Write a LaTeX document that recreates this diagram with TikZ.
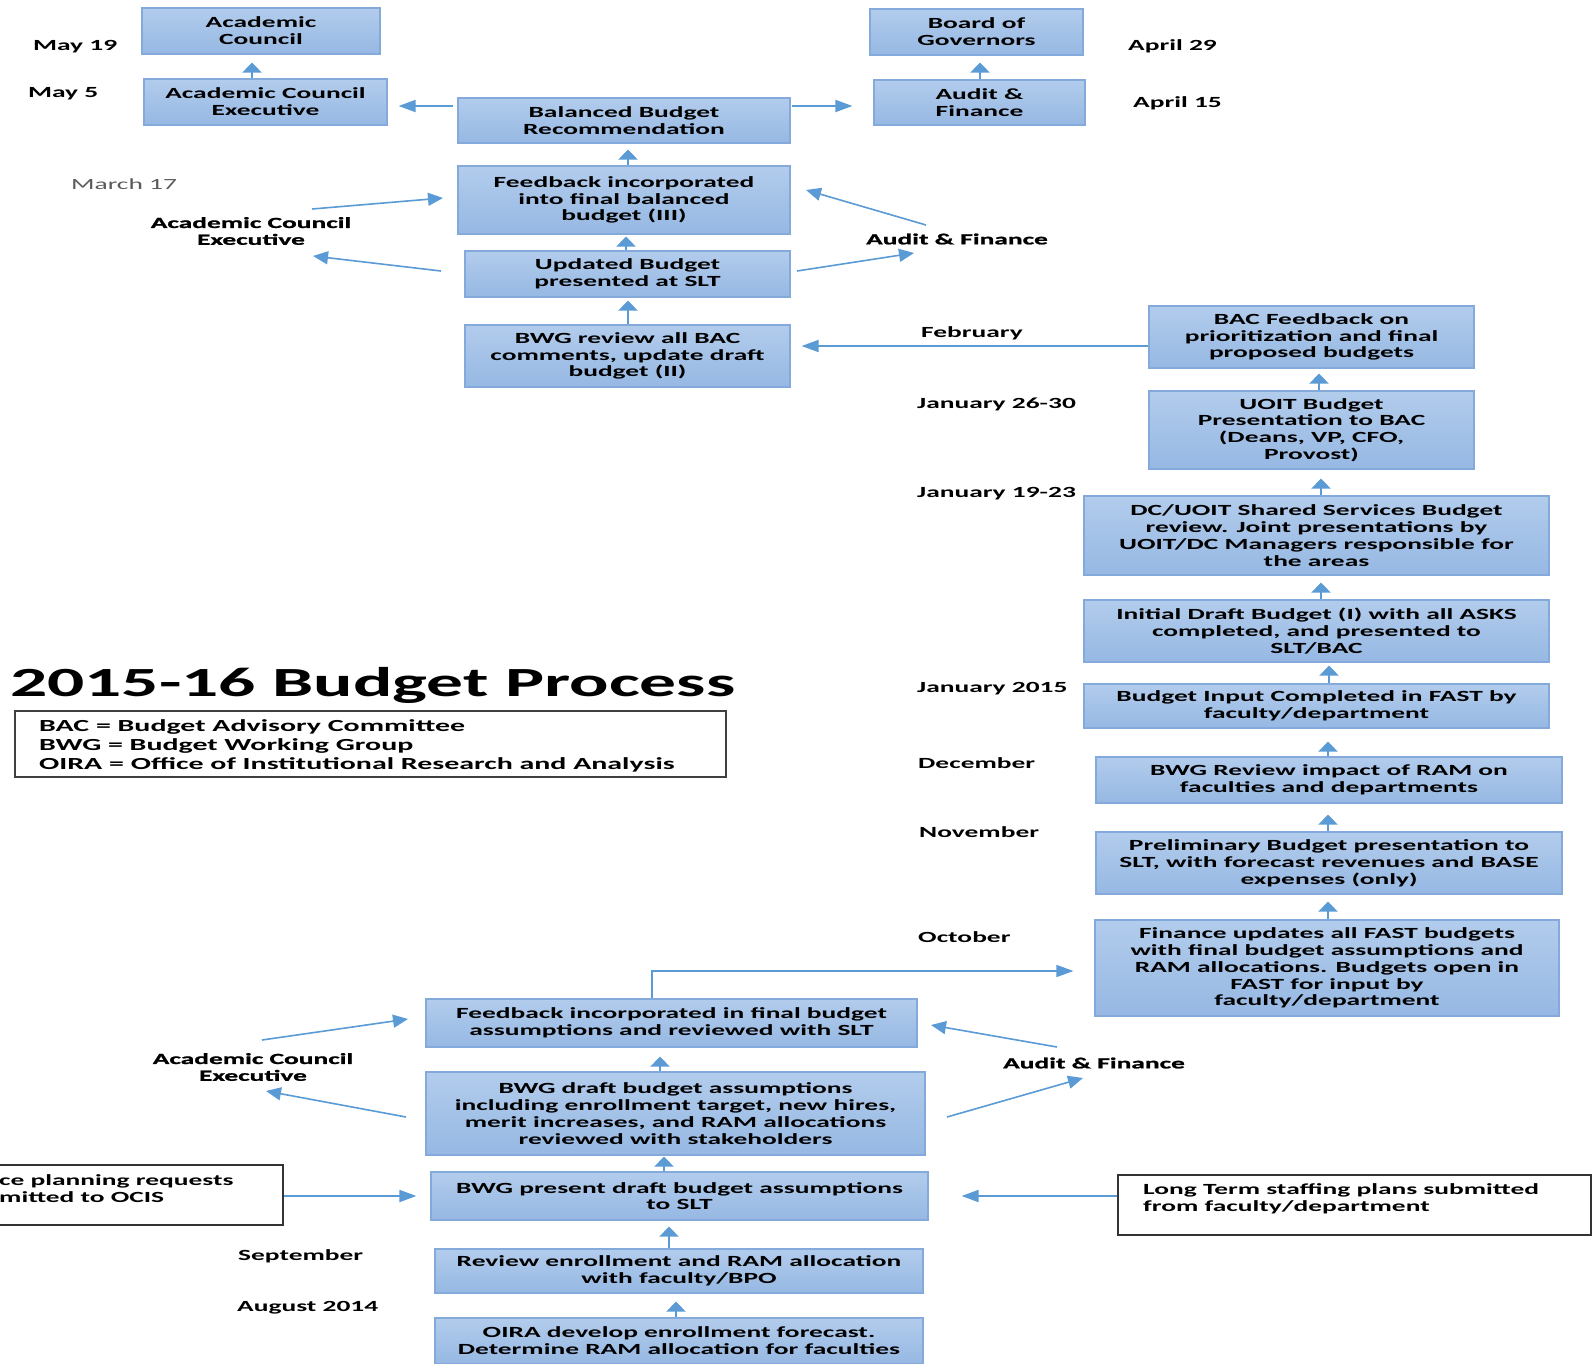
\documentclass[tikz,border=0pt]{standalone}
\usepackage{fontspec}
\setmainfont[FakeStretch=1.77]{Carlito}
\newfontfamily\heavyfont[FakeStretch=1.77,FakeBold=1.2]{Carlito}
\usetikzlibrary{arrows.meta}
\definecolor{boxtop}{HTML}{B2CCEC}
\definecolor{boxbot}{HTML}{96B8E3}
\definecolor{boxline}{HTML}{84AADB}
\definecolor{arrowblue}{HTML}{5B9BD5}
\definecolor{greytext}{HTML}{5A5A5A}
\tikzset{
  bx/.style={draw=boxline, line width=1.2pt, top color=boxtop, bottom color=boxbot,
    align=center, inner sep=2pt, font=\fontsize{15.5}{16.8}\selectfont\bfseries},
  arrv/.style={draw=arrowblue, line width=2.4pt, -{Triangle[width=19pt,length=10pt]}},
  arrh/.style={draw=arrowblue, line width=1.9pt, -{Triangle[width=12pt,length=17pt]}},
  sarr/.style={draw=arrowblue, line width=1.6pt, -{Triangle[width=13pt,length=15pt]}},
  datelbl/.style={anchor=base west, inner sep=0pt, font=\fontsize{15.5}{16.8}\selectfont\bfseries},
  sidelbl/.style={align=center, inner sep=0pt, font=\fontsize{15.5}{16.8}\heavyfont\bfseries},
  plainbox/.style={draw=black!80, line width=1.3pt, fill=white}
}
\begin{document}
\begin{tikzpicture}[x=1pt,y=-1pt]
\clip (0,0) rectangle (1593,1363);
\fill[white] (0,0) rectangle (1593,1363);

% ---------- top area ----------
\node[bx, minimum width=238pt, minimum height=46pt] (ac) at (261,31) {Academic\\Council};
\node[bx, minimum width=243pt, minimum height=46pt] (ace) at (265.5,102) {Academic Council\\Executive};
\node[bx, minimum width=332pt, minimum height=45pt] (bbr) at (624,120.5) {Balanced Budget\\Recommendation};
\node[bx, minimum width=213pt, minimum height=46pt] (bog) at (976.5,32) {Board of\\Governors};
\node[bx, minimum width=211pt, minimum height=45pt] (af) at (979.5,102.5) {Audit \&\\Finance};
\node[bx, minimum width=332pt, minimum height=68pt] (fb3) at (624,200) {Feedback incorporated\\into final balanced\\budget (III)};
\node[bx, minimum width=325pt, minimum height=46pt] (ub) at (627.5,274) {Updated Budget\\presented at SLT};
\node[bx, minimum width=325pt, minimum height=62pt] (bwg2) at (627.5,356) {BWG review all BAC\\comments, update draft\\budget (II)};

\node[datelbl] (may19) at (33,50) {May 19};
\node[datelbl] (may5) at (28,97) {May 5};
\node[datelbl, font=\fontsize{15.5}{16.8}\selectfont, text=greytext] (mar17) at (71,189) {March 17};
\node[datelbl] (apr29) at (1128,50) {April 29};
\node[datelbl] (apr15) at (1133,107) {April 15};

\node[sidelbl] (lace1) at (251,231) {Academic Council\\Executive};
\node[sidelbl] (laf1) at (957,239) {Audit \& Finance};

% ---------- right column ----------
\node[bx, minimum width=325pt, minimum height=62pt] (bacf) at (1311.5,337) {BAC Feedback on\\prioritization and final\\proposed budgets};
\node[bx, minimum width=325pt, minimum height=78pt] (uoit) at (1311.5,430) {UOIT Budget\\Presentation to BAC\\(Deans, VP, CFO,\\Provost)};
\node[bx, minimum width=465pt, minimum height=79pt] (dc) at (1316.5,535.5) {DC/UOIT Shared Services Budget\\review. Joint presentations by\\UOIT/DC Managers responsible for\\the areas};
\node[bx, minimum width=465pt, minimum height=62pt] (idb) at (1316.5,631) {Initial Draft Budget (I) with all ASKS\\completed, and presented to\\SLT/BAC};
\node[bx, minimum width=465pt, minimum height=44pt] (bic) at (1316.5,706) {Budget Input Completed in FAST by\\faculty/department};
\node[bx, minimum width=466pt, minimum height=46pt] (bri) at (1329,780) {BWG Review impact of RAM on\\faculties and departments};
\node[bx, minimum width=466pt, minimum height=62pt] (pbp) at (1329,863) {Preliminary Budget presentation to\\SLT, with forecast revenues and BASE\\expenses (only)};
\node[bx, minimum width=464pt, minimum height=96pt] (fu) at (1327,968) {Finance updates all FAST budgets\\with final budget assumptions and\\RAM allocations. Budgets open in\\FAST for input by\\faculty/department};

\node[datelbl, anchor=base] (feb) at (972,337) {February};
\node[datelbl] (jan2630) at (917,408) {January 26-30};
\node[datelbl] (jan1923) at (917,497) {January 19-23};
\node[datelbl] (jan2015) at (917,692) {January 2015};
\node[datelbl] (dec) at (918,768) {December};
\node[datelbl] (nov) at (919,837) {November};
\node[datelbl] (oct) at (918,942) {October};

% ---------- title and legend ----------
\node[anchor=base west, inner sep=0pt, font=\fontsize{41.5}{46}\selectfont\bfseries] (title) at (10,696) {2015-16 Budget Process};
\draw[draw=black!75, line width=1.4pt] (15,711) rectangle (726,777);
\node[anchor=north west, inner sep=0pt, align=left, font=\fontsize{16.9}{19.4}\selectfont\bfseries] (legend) at (39,719) {BAC = Budget Advisory Committee\\BWG = Budget Working Group\\OIRA = Office of Institutional Research and Analysis};

% ---------- bottom area ----------
\node[bx, minimum width=491pt, minimum height=48pt] (ffa) at (671.5,1023) {Feedback incorporated in final budget\\assumptions and reviewed with SLT};
\node[bx, minimum width=499pt, minimum height=83pt] (bda) at (675.5,1113.5) {BWG draft budget assumptions\\including enrollment target, new hires,\\merit increases, and RAM allocations\\reviewed with stakeholders};
\node[bx, minimum width=497pt, minimum height=48pt] (bpd) at (679.5,1196) {BWG present draft budget assumptions\\to SLT};
\node[bx, minimum width=488pt, minimum height=44pt] (rer) at (679,1271) {Review enrollment and RAM allocation\\with faculty/BPO};
\node[bx, minimum width=488pt, minimum height=46pt] (oira) at (679,1341) {OIRA develop enrollment forecast.\\Determine RAM allocation for faculties};

\node[plainbox, minimum width=303pt, minimum height=60pt] (spb) at (131.5,1195) {};
\node[anchor=north west, inner sep=0pt, align=left, font=\fontsize{15.5}{17.5}\selectfont\bfseries] (spt) at (-1,1174) {ce planning requests\\mitted to OCIS};
\node[plainbox, minimum width=473pt, minimum height=60pt] (ltb) at (1354.5,1205) {};
\node[anchor=north west, inner sep=0pt, align=left, font=\fontsize{15.5}{17.5}\selectfont\bfseries] (ltt) at (1143,1183) {Long Term staffing plans submitted\\from faculty/department};

\node[datelbl] (sep) at (238,1260) {September};
\node[datelbl] (aug) at (237,1311) {August 2014};

\node[sidelbl] (lace2) at (253,1067) {Academic Council\\Executive};
\node[sidelbl] (laf2) at (1094,1063) {Audit \& Finance};

% ---------- vertical connectors ----------
\draw[arrv, shorten >=8pt] (ace.north -| 252,0) -- (ac.south -| 252,0);
\draw[arrv, shorten >=7pt] (af.north -| 980,0) -- (bog.south -| 980,0);
\draw[arrv, shorten >=6pt] (fb3.north -| 628,0) -- (bbr.south -| 628,0);
\draw[arrv, shorten >=2pt] (ub.north -| 626,0) -- (fb3.south -| 626,0);
\draw[arrv, shorten >=3pt] (bwg2.north -| 628,0) -- (ub.south -| 628,0);
\draw[arrv, shorten >=5pt] (uoit.north -| 1319,0) -- (bacf.south -| 1319,0);
\draw[arrv, shorten >=9pt] (dc.north -| 1321,0) -- (uoit.south -| 1321,0);
\draw[arrv, shorten >=7pt] (idb.north -| 1321,0) -- (dc.south -| 1321,0);
\draw[arrv, shorten >=3pt] (bic.north -| 1329,0) -- (idb.south -| 1329,0);
\draw[arrv, shorten >=13pt] (bri.north -| 1328,0) -- (bic.south -| 1328,0);
\draw[arrv, shorten >=11pt] (pbp.north -| 1328,0) -- (bri.south -| 1328,0);
\draw[arrv, shorten >=7pt] (fu.north -| 1328,0) -- (pbp.south -| 1328,0);
\draw[arrv, shorten >=9pt] (bda.north -| 660,0) -- (ffa.south -| 660,0);
\draw[arrv, shorten >=1pt] (bpd.north -| 664,0) -- (bda.south -| 664,0);
\draw[arrv, shorten >=6pt] (rer.north -| 669,0) -- (bpd.south -| 669,0);
\draw[arrv, shorten >=8pt] (oira.north -| 676,0) -- (rer.south -| 676,0);

% ---------- horizontal connectors ----------
\draw[arrh, shorten <=4pt, shorten >=11pt] (bbr.west |- 0,106) -- (ace.east |- 0,106);
\draw[arrh, shorten <=1pt, shorten >=21pt] (bbr.east |- 0,106) -- (af.west |- 0,106);
\draw[arrh, shorten >=11pt] (bacf.west |- 0,346) -- (bwg2.east |- 0,346);
\draw[arrh, line width=1.6pt, shorten >=21pt] (ffa.north -| 652,0) |- (fu.west |- 0,971);
\draw[arrh, shorten >=14pt] (spb.east |- 0,1196) -- (bpd.west |- 0,1196);
\draw[arrh, shorten >=33pt] (ltb.west |- 0,1196) -- (bpd.east |- 0,1196);

% ---------- side arrows ----------
\coordinate (s1a) at (312,209); \coordinate (s1b) at (443,198);
\coordinate (s2a) at (441,271); \coordinate (s2b) at (313,256);
\coordinate (s3a) at (926,225); \coordinate (s3b) at (806,190);
\coordinate (s4a) at (797,271); \coordinate (s4b) at (914,253);
\coordinate (s5a) at (262,1040); \coordinate (s5b) at (408,1019);
\coordinate (s6a) at (406,1117); \coordinate (s6b) at (266,1091);
\coordinate (s7a) at (1057,1047); \coordinate (s7b) at (931,1025);
\coordinate (s8a) at (947,1117); \coordinate (s8b) at (1083,1078);
\draw[sarr] (s1a) -- (s1b);
\draw[sarr] (s2a) -- (s2b);
\draw[sarr] (s3a) -- (s3b);
\draw[sarr] (s4a) -- (s4b);
\draw[sarr] (s5a) -- (s5b);
\draw[sarr] (s6a) -- (s6b);
\draw[sarr] (s7a) -- (s7b);
\draw[sarr] (s8a) -- (s8b);
\end{tikzpicture}
\end{document}
